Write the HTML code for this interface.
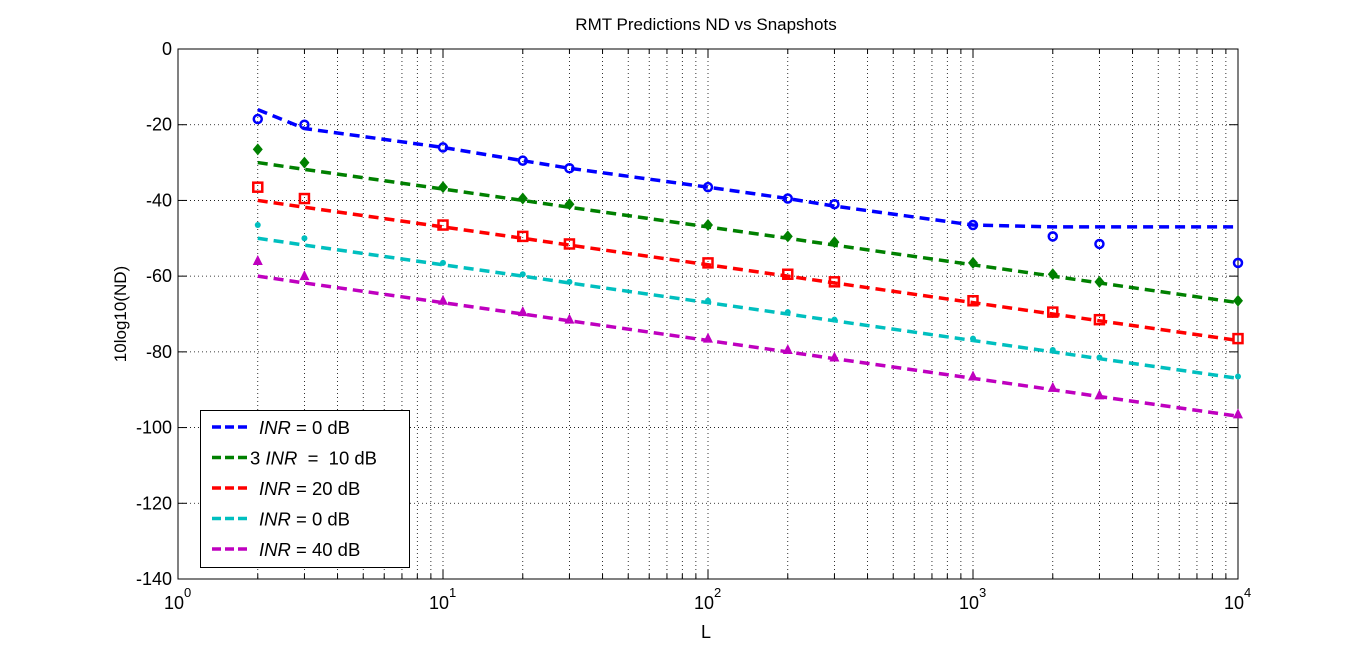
<!DOCTYPE html>
<html><head><meta charset="utf-8"><style>
body{margin:0;background:#fff;}
svg{display:block;font-family:"Liberation Sans",sans-serif;}
</style></head><body>
<svg id="chart" width="1366" height="651">
<rect width="1366" height="651" fill="#fff"/>
<text x="706" y="30" font-size="17" text-anchor="middle">RMT Predictions ND vs Snapshots</text>
<text x="706" y="638" font-size="18" text-anchor="middle">L</text>
<text transform="translate(126,314) rotate(-90)" font-size="17" text-anchor="middle">10log10(ND)</text>
<g id="grid"></g><g id="axes"></g><g id="series"></g>
<g>
<rect x="200.5" y="410.5" width="209" height="157" fill="#fff" stroke="#000"/>
<g id="legend"></g>
</g>
</svg>
<script>
const Ls=[2,3,10,20,30,100,200,300,1000,2000,3000,10000];
const blueMarks=[-18.5,-20,-26,-29.5,-31.5,-36.5,-39.5,-41,-46.5,-49.5,-51.5,-56.5];
const greenMarks=[-26.5,-30,-36.5,-39.5,-41,-46.5,-49.5,-51,-56.5,-59.5,-61.5,-66.5];
const redMarks=[-36.5,-39.5,-46.5,-49.5,-51.5,-56.5,-59.5,-61.5,-66.5,-69.5,-71.5,-76.5];
const cyanMarks=[-46.5,-50,-56.5,-59.5,-61.5,-66.5,-69.5,-71.5,-76.5,-79.5,-81.5,-86.5];
const magMarks=[-56,-60,-66.5,-69.5,-71.5,-76.5,-79.5,-81.5,-86.5,-89.5,-91.5,-96.5];
const blueLine=[-16,-21,-26,-29.5,-31.5,-36.5,-39.5,-41.5,-46.5,-47,-47,-47];
const greenLine=[-30,-31.8,-37,-40,-41.8,-47,-50,-51.8,-57,-60,-61.8,-67];
const redLine=[-40,-41.8,-47,-50,-51.8,-57,-60,-61.8,-67,-70,-71.8,-77];
const cyanLine=[-50,-51.8,-57,-60,-61.8,-67,-70,-71.8,-77,-80,-81.8,-87];
const magLine=[-60,-61.8,-67,-70,-71.8,-77,-80,-81.8,-87,-90,-91.8,-97];
const yTicks=[0,-20,-40,-60,-80,-100,-120,-140];
const legendLabels=[["",""," = 0 dB"],["3 ","","  =  10 dB"],["",""," = 20 dB"],["",""," = 0 dB"],["",""," = 40 dB"]];
const X0=178,X1=1238,Y0=49,Y1=579;
const xs=v=>X0+(Math.log10(v))*(X1-X0)/4;
const ys=v=>Y0+(0-v)*(Y1-Y0)/140;
const NS="http://www.w3.org/2000/svg";
function mk(p,t,a){const e=document.createElementNS(NS,t);for(const k in a)e.setAttribute(k,a[k]);p.appendChild(e);return e;}
const grid=document.getElementById('grid'),axes=document.getElementById('axes'),ser=document.getElementById('series');
for(let d=0;d<4;d++)for(let m=1;m<=9;m++){const v=Math.pow(10,d)*m;const x=xs(v);
 if(d>0||m>1){const g=mk(grid,'line',{x1:x,x2:x,y1:Y0,y2:Y1,stroke:'#000','stroke-width':0.8,'stroke-dasharray':'1 3'});}
 if(m>1){mk(axes,'line',{x1:x,x2:x,y1:Y1,y2:Y1-5,stroke:'#000'});mk(axes,'line',{x1:x,x2:x,y1:Y0,y2:Y0+5,stroke:'#000'});}
}
for(let d=0;d<=4;d++){const x=xs(Math.pow(10,d));
 mk(axes,'line',{x1:x,x2:x,y1:Y1,y2:Y1-9,stroke:'#000'});mk(axes,'line',{x1:x,x2:x,y1:Y0,y2:Y0+9,stroke:'#000'});
 const t=mk(axes,'text',{x:x-4,y:609,'font-size':18,'text-anchor':'middle'});t.textContent='10';
 
 const s=mk(axes,'text',{x:x+6,y:597,'font-size':13});s.textContent=String(d);}
yTicks.forEach(v=>{const y=ys(v);
 if(v!==0&&v!==-140){const g=mk(grid,'line',{x1:X0,x2:X1,y1:y,y2:y,stroke:'#000','stroke-width':0.8,'stroke-dasharray':'1 3'});}
 mk(axes,'line',{x1:X0,x2:X0+9,y1:y,y2:y,stroke:'#000'});mk(axes,'line',{x1:X1,x2:X1-9,y1:y,y2:y,stroke:'#000'});
 const t=mk(axes,'text',{x:172,y:y+6,'font-size':18,'text-anchor':'end'});t.textContent=String(v);
 });
mk(axes,'rect',{x:X0,y:Y0,width:X1-X0,height:Y1-Y0,fill:'none',stroke:'#000'});
const cols=['#0000ff','#008000','#ff0000','#00bfbf','#bf00bf'];
const lines=[blueLine,greenLine,redLine,cyanLine,magLine];
const marks=[blueMarks,greenMarks,redMarks,cyanMarks,magMarks];
const shapes=['circle','diamond','square','star','triangle'];
lines.forEach((ln,i)=>{const p=mk(ser,'polyline',{points:Ls.map((l,j)=>xs(l)+','+ys(ln[j])).join(' '),fill:'none',stroke:cols[i],'stroke-width':3.5,'stroke-dasharray':'10 6'});
 });
marks.forEach((mv,i)=>{const c=cols[i];mv.forEach((v,j)=>{const x=xs(Ls[j]),y=ys(v);let e;
 if(shapes[i]==='circle')e=mk(ser,'circle',{cx:x,cy:y,r:4,fill:'none',stroke:c,'stroke-width':2.5});
 else if(shapes[i]==='diamond')e=mk(ser,'polygon',{points:`${x},${y-6} ${x+5},${y} ${x},${y+6} ${x-5},${y}`,fill:c});
 else if(shapes[i]==='square')e=mk(ser,'rect',{x:x-4.5,y:y-4.5,width:9,height:9,fill:'none',stroke:c,'stroke-width':2.5});
 else if(shapes[i]==='star')e=mk(ser,'circle',{cx:x,cy:y,r:3,fill:c});
 else e=mk(ser,'polygon',{points:`${x},${y-6} ${x+5},${y+4} ${x-5},${y+4}`,fill:c});
 });});
const lg=document.getElementById('legend');
legendLabels.forEach((lb,i)=>{const y=427+i*30.5;
 const l=mk(lg,'line',{x1:212,x2:250,y1:y,y2:y,stroke:cols[i],'stroke-width':3.5,'stroke-dasharray':'9 4'});
 
 const t=mk(lg,'text',{x:lb[0]?250:259,y:y+7,'font-size':18.5,'xml:space':'preserve'});
 
 t.setAttribute('style','white-space:pre');
 if(lb[0]){const a=mk(t,'tspan',{});a.textContent=lb[0];}
 const it=mk(t,'tspan',{'font-style':'italic'});it.textContent='INR';
 const r=mk(t,'tspan',{});r.textContent=lb[2];});
</script>
</body></html>
